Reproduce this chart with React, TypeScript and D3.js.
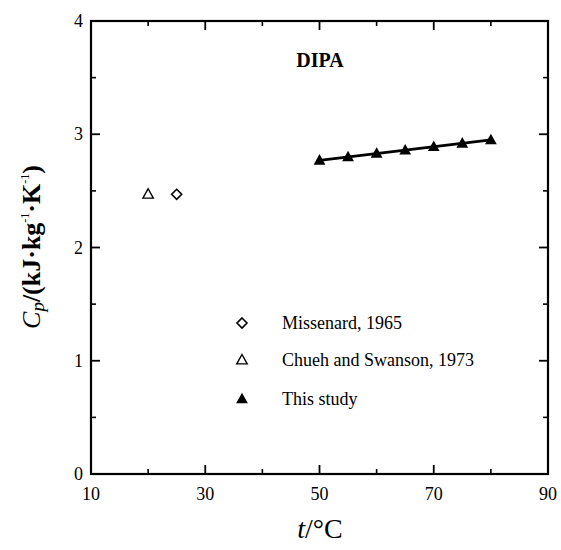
import React from "react";
import * as d3 from "d3";

const xTicks = [10, 30, 50, 70, 90];
const xMinor = [20, 40, 60, 80];
const yTicks = [0, 1, 2, 3, 4];
const yMinor = [0.5, 1.5, 2.5, 3.5];

const studyT = [50, 55, 60, 65, 70, 75, 80];
const studyCp = [2.77, 2.8, 2.83, 2.86, 2.89, 2.92, 2.95];
const missenardT = [25];
const missenardCp = [2.47];
const chuehT = [20];
const chuehCp = [2.47];

const legendLabels = ["Missenard, 1965", "Chueh and Swanson, 1973", "This study"];

export default function App() {
  const W = 561, H = 550;
  const L = 91, R = 548, T = 21, B = 474;
  const x = d3.scaleLinear().domain([10, 90]).range([L, R]);
  const y = d3.scaleLinear().domain([0, 4]).range([B, T]);
  const font = "'Liberation Serif', 'Times New Roman', serif";

  const tri = (cx: number, cy: number, s: number) =>
    `M${cx},${cy - s} L${cx + s * 0.95},${cy + s * 0.7} L${cx - s * 0.95},${cy + s * 0.7} Z`;
  const dia = (cx: number, cy: number, s: number) =>
    `M${cx},${cy - s} L${cx + s},${cy} L${cx},${cy + s} L${cx - s},${cy} Z`;

  const n = studyT.length;
  const mx = d3.mean(studyT)!, my = d3.mean(studyCp)!;
  const slope = d3.sum(studyT.map((t, i) => (t - mx) * (studyCp[i] - my))) / d3.sum(studyT.map((t) => (t - mx) ** 2));
  const icpt = my - slope * mx;
  const line = d3.line<number>().x((t) => x(t)).y((t) => y(icpt + slope * t));

  return (
    <svg width={W} height={H} style={{ position: "absolute", left: 0, top: 0, background: "#fff" }}>
      <rect x={0} y={0} width={W} height={H} fill="#fff" />
      <rect x={L} y={T} width={R - L} height={B - T} fill="none" stroke="#000" strokeWidth={2.2} />
      {xTicks.map((t) => (
        <g key={"x" + t}>
          <line x1={x(t)} x2={x(t)} y1={B} y2={B - 9} stroke="#000" strokeWidth={1.8} />
          <line x1={x(t)} x2={x(t)} y1={T} y2={T + 9} stroke="#000" strokeWidth={1.8} />
          <text x={x(t)} y={B + 26} textAnchor="middle" fontFamily={font} fontSize={18}>{t}</text>
        </g>
      ))}
      {xMinor.map((t) => (
        <g key={"xm" + t}>
          <line x1={x(t)} x2={x(t)} y1={B} y2={B - 5} stroke="#000" strokeWidth={1.6} />
          <line x1={x(t)} x2={x(t)} y1={T} y2={T + 5} stroke="#000" strokeWidth={1.6} />
        </g>
      ))}
      {yTicks.map((v) => (
        <g key={"y" + v}>
          <line x1={L} x2={L + 9} y1={y(v)} y2={y(v)} stroke="#000" strokeWidth={1.8} />
          <line x1={R} x2={R - 9} y1={y(v)} y2={y(v)} stroke="#000" strokeWidth={1.8} />
          <text x={L - 8} y={y(v) + 6} textAnchor="end" fontFamily={font} fontSize={18}>{v}</text>
        </g>
      ))}
      {yMinor.map((v) => (
        <g key={"ym" + v}>
          <line x1={L} x2={L + 5} y1={y(v)} y2={y(v)} stroke="#000" strokeWidth={1.6} />
          <line x1={R} x2={R - 5} y1={y(v)} y2={y(v)} stroke="#000" strokeWidth={1.6} />
        </g>
      ))}

      <path d={line([studyT[0], studyT[n - 1]]) || ""} stroke="#000" strokeWidth={2.8} fill="none" />
      {studyT.map((t, i) => (
        <path key={"s" + i} d={tri(x(t), y(studyCp[i]), 6.2)} fill="#000" />
      ))}
      {chuehT.map((t, i) => (
        <path key={"c" + i} d={tri(x(t), y(chuehCp[i]), 5.5)} fill="none" stroke="#000" strokeWidth={1.4} />
      ))}
      {missenardT.map((t, i) => (
        <path key={"m" + i} d={dia(x(t), y(missenardCp[i]), 5)} fill="none" stroke="#000" strokeWidth={1.6} />
      ))}

      <text x={320} y={67} textAnchor="middle" fontFamily={font} fontSize={20} fontWeight="bold">DIPA</text>

      {legendLabels.map((lab, i) => {
        const ly = [323, 360, 399][i];
        const lx = 242;
        return (
          <g key={"l" + i}>
            {i === 0 && <path d={dia(lx, ly, 5)} fill="none" stroke="#000" strokeWidth={1.6} />}
            {i === 1 && <path d={tri(lx, ly, 5.5)} fill="none" stroke="#000" strokeWidth={1.4} />}
            {i === 2 && <path d={tri(lx, ly, 6.2)} fill="#000" />}
            <text x={282} y={ly + 6} fontFamily={font} fontSize={18}>{lab}</text>
          </g>
        );
      })}

      <text x={320} y={538} textAnchor="middle" fontFamily={font} fontSize={28}>
        <tspan fontStyle="italic">t</tspan>/°C
      </text>

      <text transform="translate(40,247) rotate(-90)" textAnchor="middle" fontFamily={font} fontSize={26}>
        <tspan fontStyle="italic">C</tspan>
        <tspan fontStyle="italic" fontSize={19} dy={4}>p</tspan>
        <tspan dy={-4} fontWeight="bold">/(kJ·kg</tspan>
        <tspan fontSize={12} dy={-11}>-1</tspan>
        <tspan dy={11} fontWeight="bold">·K</tspan>
        <tspan fontSize={12} dy={-11}>-1</tspan>
        <tspan dy={11} fontWeight="bold">)</tspan>
      </text>
    </svg>
  );
}
